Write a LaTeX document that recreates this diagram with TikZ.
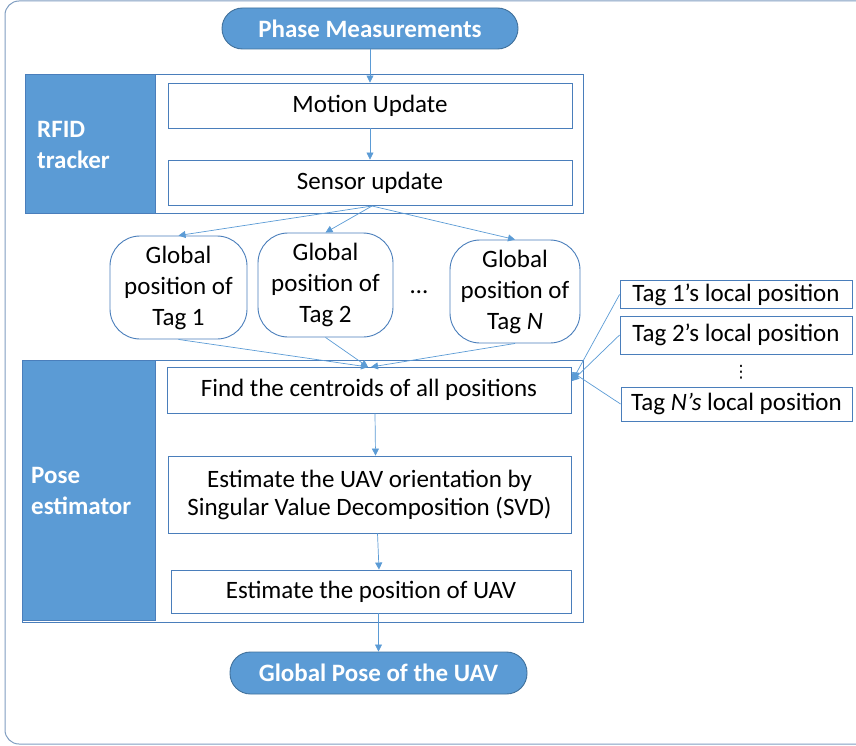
\documentclass[tikz,border=0pt]{standalone}
\usepackage{fontspec}
\setmainfont{Carlito}
\newfontfamily\symfont{DejaVu Sans}
\usetikzlibrary{arrows.meta}
\definecolor{fillb}{HTML}{5B9BD5}
\definecolor{bordb}{HTML}{41719C}
\definecolor{boxb}{HTML}{4A7EBB}
\definecolor{arrb}{HTML}{5B9BD5}
\definecolor{framec}{HTML}{7F9DC0}
\tikzset{
  box/.style={draw=boxb, line width=0.9pt, fill=white, inner sep=0pt, align=center,
    font=\fontsize{25}{28}\selectfont},
  term/.style={draw=bordb, line width=0.9pt, fill=fillb, rounded corners=20.5pt, inner sep=0pt,
    text=white, font=\fontsize{25}{28}\selectfont\bfseries},
  side/.style={fill=fillb, draw=boxb, line width=0.9pt},
  glob/.style={box, rounded corners=30pt, font=\fontsize{25}{31}\selectfont},
  arr/.style={draw=arrb, line width=0.7pt, -{Triangle[length=7pt,width=7pt]}},
  lbl/.style={text=white, font=\fontsize{25}{31}\selectfont\bfseries, align=left, anchor=west, inner sep=0pt},
}
\begin{document}
\begin{tikzpicture}[x=1pt,y=-1pt]
\useasboundingbox (0,0) rectangle (856,746);
% outer frame
\draw[framec, line width=1pt, rounded corners=14pt] (5,1) rectangle (880,744);

% Phase measurements
\node[term, minimum width=296, minimum height=41] (pm) at (370,28.5) {Phase Measurements};

% RFID tracker block
\node[box, minimum width=558, minimum height=139] (rfid) at (304,143.5) {};
\node[side, minimum width=130, minimum height=139, inner sep=0pt] (rfidside) at (90,143.5) {};
\node[lbl] (rfidl) at (37,145) {RFID\\tracker};
\node[box, minimum width=404, minimum height=45] (mu) at (370,105.5) {Motion Update};
\node[box, minimum width=404, minimum height=45] (su) at (370,182.5) {Sensor update};

% Global positions
\node[glob, minimum width=137, minimum height=103] (g1) at (178.5,287.5) {Global\\position of\\Tag 1};
\node[glob, minimum width=135, minimum height=104] (g2) at (325.5,285) {Global\\position of\\Tag 2};
\node[font=\fontsize{25}{28}\selectfont, inner sep=0pt] (gdots) at (419,292) {…};
\node[glob, minimum width=130, minimum height=103] (gn) at (515,291.5) {Global\\position of\\Tag \textit{N}};

% Pose estimator block
\node[box, minimum width=561, minimum height=262] (pose) at (302.5,491) {};
\node[side, minimum width=133, minimum height=260, inner sep=0pt] (poseside) at (88.5,490) {};
\node[lbl] (posel) at (31,491) {Pose\\estimator};
\node[box, minimum width=404, minimum height=46] (fc) at (369,390) {Find the centroids of all positions};
\node[box, minimum width=403, minimum height=77] (eo) at (369.5,494.5) {Estimate the UAV orientation by\\Singular Value Decomposition (SVD)};
\node[box, minimum width=400, minimum height=43] (ep) at (371,591.5) {Estimate the position of UAV};

% Global pose
\node[term, minimum width=297, minimum height=42] (gp) at (378.5,673) {Global Pose of the UAV};

% local positions
\node[box, minimum width=232, minimum height=28] (l1) at (736,294.5) {Tag 1’s local position};
\node[box, minimum width=232, minimum height=38] (l2) at (736,335) {Tag 2’s local position};
\node[font=\symfont\fontsize{17}{20}\selectfont, inner sep=0pt] (ldots) at (741,372) {⋮};
\node[box, minimum width=231, minimum height=34] (ln) at (736.5,404) {Tag \textit{N’s} local position};

% arrows
\draw[arr] (pm.south) -- (mu.north);
\draw[arr] (mu.south) -- (su.north);
\coordinate (sb) at (372,206);
\draw[arr] (sb) -- (g1.north);
\draw[arr] (sb) -- (g2.north);
\draw[arr] (sb) -- (gn.north);
\coordinate (ft) at (368,367);
\draw[arr] (g1.south) -- (ft);
\draw[arr] (g2.south) -- (ft);
\draw[arr] (gn.south) -- ([xshift=3pt]ft);
\coordinate (fr) at (572,381);
\draw[arr] (l1.west) -- (fr);
\draw[arr] (l2.west) -- (fr);
\draw[arr] (ln.west) -- ([yshift=9pt]fr);
\draw[arr] ([xshift=6pt]fc.south) -- ([xshift=6pt]eo.north);
\draw[arr] ([xshift=8pt]eo.south) -- ([xshift=8pt]ep.north);
\draw[arr] (ep.south -| gp.north) -- (gp.north);
\end{tikzpicture}
\end{document}
